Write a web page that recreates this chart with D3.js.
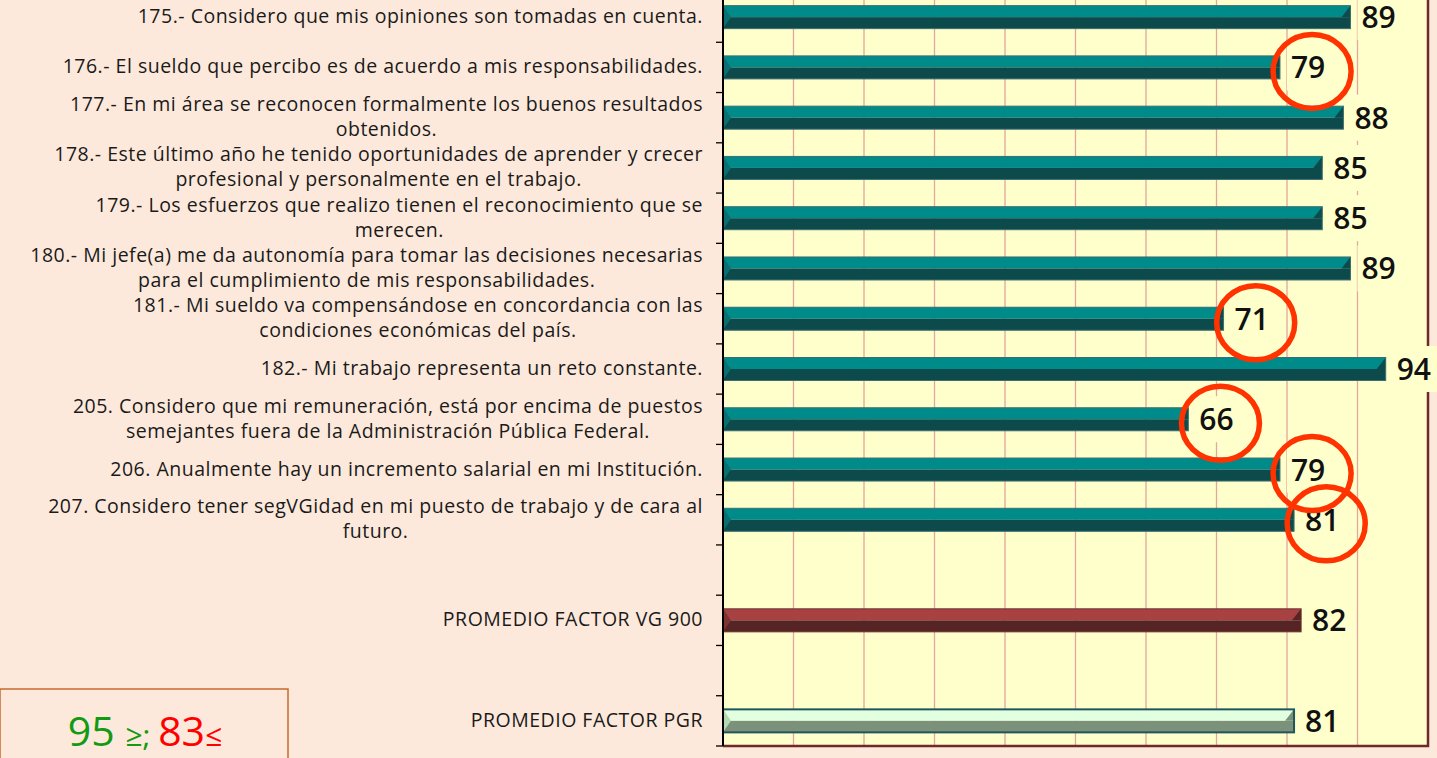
<!DOCTYPE html>
<html lang="es">
<head>
<meta charset="UTF-8">
<title>Factor VG</title>
<script src="https://d3js.org/d3.v7.min.js"></script>
<style>
  html, body { margin: 0; padding: 0; background: #FDE9DB; overflow: hidden; }
  svg { display: block; font-family: "Open Sans", "DejaVu Sans", sans-serif; }
</style>
</head>
<body>
<div id="chart"></div>
<script>
// categories, top to bottom ("" = empty slot)
var categories = [
  "175.- Considero que mis opiniones son tomadas en cuenta.",
  "176.- El sueldo que percibo es de acuerdo a mis responsabilidades.",
  "177.- En mi área se reconocen formalmente los buenos resultados\nobtenidos.",
  "178.- Este último año he tenido oportunidades de aprender y crecer\nprofesional y personalmente en el trabajo.",
  "179.- Los esfuerzos que realizo tienen el reconocimiento que se\nmerecen.",
  "180.- Mi jefe(a) me da autonomía para tomar las decisiones necesarias\npara el cumplimiento de mis responsabilidades.",
  "181.- Mi sueldo va compensándose en concordancia con las\ncondiciones económicas del país.",
  "182.- Mi trabajo representa un reto constante.",
  "205. Considero que mi remuneración, está por encima de puestos\nsemejantes fuera de la Administración Pública Federal.",
  "206. Anualmente hay un incremento salarial en mi Institución.",
  "207. Considero tener segVGidad en mi puesto de trabajo y de cara al\nfuturo.",
  "",
  "PROMEDIO FACTOR VG 900",
  "",
  "PROMEDIO FACTOR PGR"
];
var values = [89, 79, 88, 85, 85, 89, 71, 94, 66, 79, 81, null, 82, null, 81];
var kinds  = ["item","item","item","item","item","item","item","item","item","item","item",
              null, "vg", null, "pgr"];
var lowLimit = 83;   // items under this get a red circle
var highLimit = 95;
var xTicks = [0, 10, 20, 30, 40, 50, 60, 70, 80, 90, 100];

var W = 1437, H = 758;
var plotL = 723, plotR = 1428, plotT = -8, plotB = 746;

var colors = {
  item: { up: "#008B8B", down: "#0C4A4B", cap: "#0A6F70", line: "#3C6E70" },
  vg:   { up: "#A84141", down: "#562424", cap: "#7E3333", line: "#6E3030" },
  pgr:  { up: "#E2FFE0", down: "#7B917A", cap: "#B4D8B2", line: "#1F5560" }
};

var svg = d3.select("#chart").append("svg")
    .attr("width", W).attr("height", H);

var x = d3.scaleLinear().domain([0, 100]).range([plotL, plotR]);
var y = d3.scaleBand().domain(d3.range(categories.length)).range([plotT, plotB]);

// plot area
svg.append("rect")
    .attr("x", plotL).attr("y", plotT)
    .attr("width", plotR - plotL).attr("height", plotB - plotT)
    .attr("fill", "#FFFFCC");

// vertical gridlines
svg.append("g").selectAll("line")
    .data(xTicks.slice(1, -1))
    .enter().append("line")
    .attr("x1", function(d) { return x(d); })
    .attr("x2", function(d) { return x(d); })
    .attr("y1", plotT).attr("y2", plotB)
    .attr("stroke", "#E3A6A0").attr("stroke-width", 1.3);

var rows = values.map(function(v, i) { return { v: v, i: i, k: kinds[i] }; })
    .filter(function(d) { return d.v != null; });

// bars
var bh = 23;
svg.append("g").selectAll("g")
    .data(rows)
    .enter().append("g")
    .each(function(d) {
      var g = d3.select(this);
      var c = colors[d.k];
      var cy = y(d.i) + y.bandwidth() / 2;
      var y0 = cy - bh / 2, x0 = x(0), x1 = x(d.v);
      g.append("rect").attr("x", x0).attr("y", y0).attr("width", x1 - x0).attr("height", bh / 2)
        .attr("fill", c.up);
      g.append("rect").attr("x", x0).attr("y", cy).attr("width", x1 - x0).attr("height", bh / 2)
        .attr("fill", c.down);
      // left end cap
      g.append("path")
        .attr("d", "M" + x0 + "," + y0 + "L" + (x0 + 8) + "," + cy + "L" + x0 + "," + (y0 + bh) + "Z")
        .attr("fill", c.cap);
      // right end bevel
      g.append("path")
        .attr("d", "M" + x1 + "," + y0 + "L" + (x1 - 9) + "," + cy + "L" + x1 + "," + cy + "Z")
        .attr("fill", c.down);
      g.append("rect").attr("x", x0).attr("y", y0).attr("width", x1 - x0).attr("height", bh)
        .attr("fill", "none").attr("stroke", c.line)
        .attr("stroke-width", d.k === "pgr" ? 2 : 1);
    });

// plot border (right & bottom)
svg.append("path")
    .attr("d", "M" + plotR + "," + plotT + "V" + plotB + "H" + plotL)
    .attr("fill", "none").attr("stroke", "#6E2A26").attr("stroke-width", 2.5);

// value labels with background boxes
var circles = [];
svg.append("g").selectAll("g")
    .data(rows)
    .enter().append("g")
    .each(function(d) {
      var g = d3.select(this);
      var cy = y(d.i) + y.bandwidth() / 2;
      var tx = x(d.v) + 11;
      var box = g.append("rect").attr("fill", "#FFFFCC");
      var t = g.append("text")
          .attr("x", tx).attr("y", cy + 11)
          .attr("font-size", 30).attr("fill", "#111")
          .attr("font-weight", 600)
          .text(d.v);
      var w = t.node().getComputedTextLength();
      box.attr("x", tx - 4).attr("y", cy - 23).attr("width", w + 12).attr("height", 46);
      if (d.k === "item" && d.v < lowLimit) circles.push({ cx: tx + w / 2 + 4, cy: cy + 4 });
    });

svg.append("g").selectAll("ellipse")
    .data(circles)
    .enter().append("ellipse")
    .attr("cx", function(d) { return d.cx; })
    .attr("cy", function(d) { return d.cy; })
    .attr("rx", 39).attr("ry", 37)
    .attr("fill", "none").attr("stroke", "#FF3300").attr("stroke-width", 5.5);

// left axis with ticks between categories
var axis = svg.append("g");
axis.append("line").attr("x1", plotL).attr("x2", plotL).attr("y1", plotT).attr("y2", plotB)
    .attr("stroke", "#000").attr("stroke-width", 2);
axis.selectAll("line.tick")
    .data(d3.range(1, categories.length + 1))
    .enter().append("line").attr("class", "tick")
    .attr("x1", plotL - 7).attr("x2", plotL)
    .attr("y1", function(i) { return plotT + i * y.bandwidth(); })
    .attr("y2", function(i) { return plotT + i * y.bandwidth(); })
    .attr("stroke", "#000").attr("stroke-width", 1.3);

// category labels: block right-aligned, lines centered
var catG = svg.append("g");
categories.forEach(function(c, i) {
  if (!c) return;
  var lines = c.split("\n");
  var cy = y(i) + y.bandwidth() / 2;
  var t = catG.append("text")
      .attr("font-size", 19.5).attr("fill", "#1a1a1a")
      .attr("letter-spacing", 0.5)
      .attr("text-anchor", "middle");
  var spans = lines.map(function(l, j) {
    return t.append("tspan").text(l)
      .attr("y", cy + 6 + (j - (lines.length - 1) / 2) * 25);
  });
  var maxW = d3.max(spans, function(s) { return s.node().getComputedTextLength(); });
  spans.forEach(function(s) { s.attr("x", 703 - maxW / 2); });
});

// threshold legend box
svg.append("rect")
    .attr("x", 0).attr("y", 689).attr("width", 288).attr("height", 80)
    .attr("fill", "#FDE9DB").attr("stroke", "#C8682E").attr("stroke-width", 1.5);
var leg = svg.append("text").attr("x", 145).attr("y", 746)
    .attr("text-anchor", "middle").attr("font-size", 41).attr("font-weight", 500);
leg.append("tspan").attr("fill", "#129A12").text(highLimit + " ");
leg.append("tspan").attr("fill", "#129A12").attr("font-size", 30).text("≥; ");
leg.append("tspan").attr("fill", "#FF0000").text(lowLimit);
leg.append("tspan").attr("fill", "#FF0000").attr("font-size", 30).text("≤");
</script>
</body>
</html>
